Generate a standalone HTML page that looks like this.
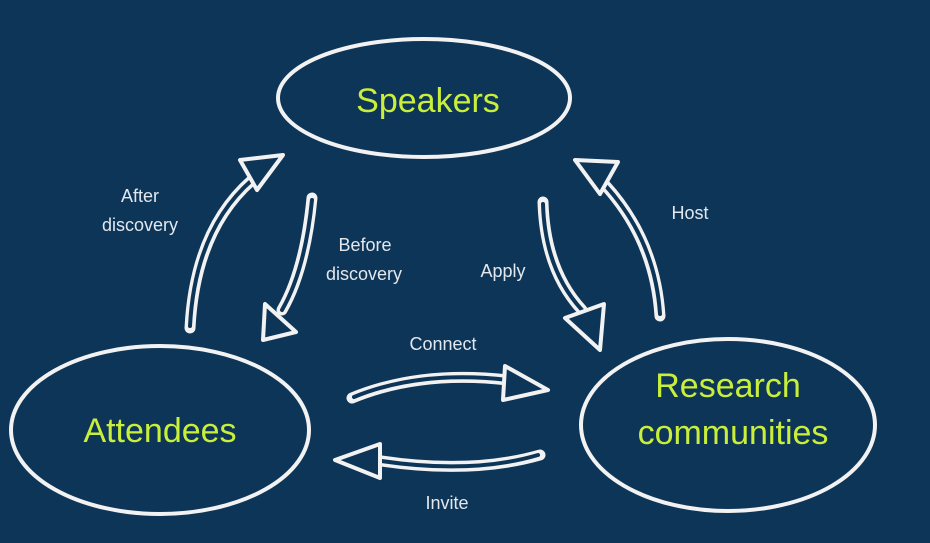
<html><body style="margin:0;background:#0d3558">
<svg width="930" height="543" xmlns="http://www.w3.org/2000/svg" style="display:block">
<rect width="930" height="543" fill="#0d3558"/>
<g fill="none" stroke="#f2f2f2" stroke-width="4">
<ellipse cx="424" cy="98" rx="146" ry="59"/>
<ellipse cx="160" cy="430" rx="149" ry="84"/>
<ellipse cx="728" cy="425" rx="147" ry="86"/>
</g>
<g fill="none" stroke-linecap="round">
<g stroke="#f2f2f2" stroke-width="11">
<path d="M190 328 Q195 230 252 180"/>
<path d="M312 198 Q305 270 282 310"/>
<path d="M543 202 Q545 270 582 310"/>
<path d="M660 316 Q655 240 605 185"/>
<path d="M352 398 Q420 370 508 380"/>
<path d="M540 455 Q470 475 375 460"/>
</g>
<g stroke="#0d3558" stroke-width="4">
<path d="M190 326 Q195 230 252 180"/>
<path d="M312 200 Q305 270 282 310"/>
<path d="M543 204 Q545 270 582 310"/>
<path d="M660 314 Q655 240 605 185"/>
<path d="M354 397 Q420 370 508 380"/>
<path d="M538 455 Q470 475 375 460"/>
</g>
</g>
<g fill="#0d3558" stroke="#f2f2f2" stroke-width="4" stroke-linejoin="round">
<polygon points="240,160 283,155 257,190"/>
<polygon points="265,304 263,340 296,332"/>
<polygon points="565,318 604,304 600,350"/>
<polygon points="575,160 618,162 600,194"/>
<polygon points="505,366 548,390 503,400"/>
<polygon points="380,444 335,460 380,478"/>
</g>
<g font-family="Liberation Sans, sans-serif" fill="#c9ef3a" font-size="34" text-anchor="middle">
<text x="428" y="112">Speakers</text>
<text x="160" y="442">Attendees</text>
<text x="728" y="397">Research</text>
<text x="733" y="444">communities</text>
</g>
<g font-family="Liberation Sans, sans-serif" fill="#e2e8ee" font-size="18" text-anchor="middle">
<text x="140" y="202">After</text>
<text x="140" y="231">discovery</text>
<text x="365" y="251">Before</text>
<text x="364" y="280">discovery</text>
<text x="503" y="277">Apply</text>
<text x="690" y="219">Host</text>
<text x="443" y="350">Connect</text>
<text x="447" y="509">Invite</text>
</g>
</svg>
</body></html>
